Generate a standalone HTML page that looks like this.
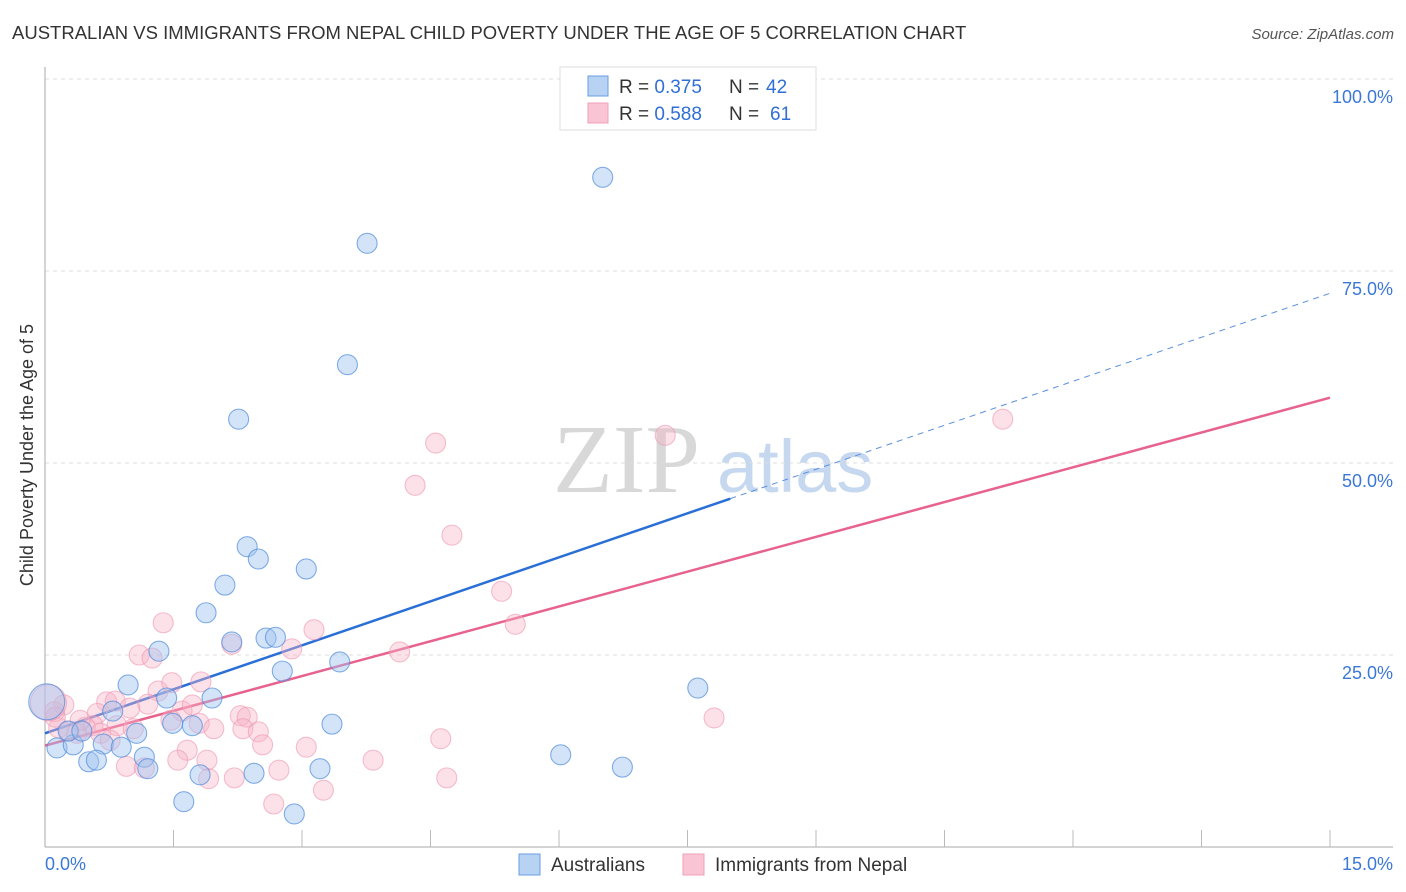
<!DOCTYPE html>
<html><head><meta charset="utf-8"><style>
body{margin:0;background:#fff;font-family:"Liberation Sans",sans-serif}
svg{display:block}
</style></head><body>
<svg id="chart" width="1406" height="892">
<text x="12" y="39" font-size="18.5" fill="#333">AUSTRALIAN VS IMMIGRANTS FROM NEPAL CHILD POVERTY UNDER THE AGE OF 5 CORRELATION CHART</text>
<text x="1394" y="39" font-size="15" fill="#555" font-style="italic" text-anchor="end">Source: ZipAtlas.com</text>
<text transform="translate(33,455) rotate(-90)" font-size="18" fill="#333" text-anchor="middle">Child Poverty Under the Age of 5</text>
<g>
<text x="553" y="492" font-family="Liberation Serif,serif" font-size="98" fill="#d8d8d8">ZIP</text>
<text x="717" y="492" font-size="74" fill="#c6d8ef">atlas</text>
</g>
<g id="grid"></g><g id="axes"></g><g id="lines"></g><g id="pts"></g>
<g>
<rect x="560" y="67" width="256" height="63" fill="#fff" stroke="#ddd"/>
<rect x="588" y="76" width="20" height="20" fill="#b8d2f4" stroke="#6a9de0"/>
<rect x="588" y="103" width="20" height="20" fill="#f9c4d3" stroke="#f0a0b8"/>
<text x="619" y="93" font-size="19" fill="#333">R = <tspan fill="#2f6fd6">0.375</tspan><tspan x="729">N = </tspan><tspan fill="#2f6fd6" x="766">42</tspan></text>
<text x="619" y="120" font-size="19" fill="#333">R = <tspan fill="#2f6fd6">0.588</tspan><tspan x="729">N = </tspan><tspan fill="#2f6fd6" x="770">61</tspan></text>
</g>
<g>
<rect x="519" y="854" width="21" height="21" fill="#b8d2f4" stroke="#6a9de0"/>
<text x="551" y="871" font-size="19" fill="#333">Australians</text>
<rect x="683" y="854" width="21" height="21" fill="#f9c4d3" stroke="#f0a0b8"/>
<text x="715" y="871" font-size="19" fill="#333">Immigrants from Nepal</text>
</g>
</svg>
<script>
const yTicks=[25,50,75,100];
const yTickLabels=["25.0%","50.0%","75.0%","100.0%"];
const xTickCount=10;
const xLabels=["0.0%","15.0%"];
const ausX=[6.51,3.76,3.53,2.26,2.36,2.49,3.05,2.10,1.88,2.18,2.58,2.69,1.33,2.77,3.44,0.97,1.42,1.95,7.62,1.07,0.79,1.49,1.72,3.35,0.14,0.33,0.68,0.89,0.51,0.60,1.16,1.20,6.02,6.74,1.81,2.44,3.21,1.62,2.91,0.02,0.27,0.43];
const ausY=[87.2,78.6,62.8,55.7,39.1,37.5,36.2,34.1,30.5,26.7,27.2,27.3,25.5,22.9,24.1,21.1,19.4,19.4,20.7,14.8,17.7,16.1,15.8,16.0,12.9,13.3,13.4,13.0,11.1,11.3,11.7,10.2,12.0,10.4,9.4,9.6,10.2,5.9,4.3,18.9,15.1,15.1];
const nepX=[11.18,4.56,7.24,4.32,4.75,5.33,5.49,1.38,3.14,2.18,2.88,4.14,1.10,1.25,1.82,1.32,1.48,0.72,0.82,0.99,1.20,0.61,1.60,1.72,2.28,2.36,7.81,1.47,1.80,2.31,2.49,1.97,0.22,0.11,0.56,0.84,0.47,0.16,1.03,0.37,0.65,0.28,2.54,3.05,1.66,4.62,1.55,1.89,3.83,0.95,1.16,2.73,2.21,1.91,4.69,3.25,2.67,0.12,0.41,0.04,0.76];
const nepY=[55.7,52.6,53.6,47.1,40.6,33.3,29.0,29.2,28.3,26.4,25.8,25.4,25.0,24.6,21.5,20.3,21.4,18.9,19.0,18.1,18.6,17.4,17.7,18.5,17.1,16.9,16.8,16.5,16.1,15.4,15.0,15.4,18.5,17.6,15.8,15.8,15.6,15.5,15.4,14.8,14.8,15.1,13.3,13.0,12.6,14.1,11.3,11.3,11.3,10.5,10.3,10.0,9.0,8.9,9.0,7.4,5.6,16.9,16.5,18.8,13.9];
const ausFit=[14.8,72.1], ausSolidEnd=8.0;
const nepFit=[13.2,58.5];
const X=v=>45+v/15*1285, Y=v=>847-v/100*768;
const NS="http://www.w3.org/2000/svg";
function mk(p,t,a){const e=document.createElementNS(NS,t);for(const k in a)e.setAttribute(k,a[k]);p.appendChild(e);return e;}
const grid=document.getElementById('grid'),axes=document.getElementById('axes'),lines=document.getElementById('lines'),pts=document.getElementById('pts');
yTicks.forEach((t,i)=>{
 const l=mk(grid,'line',{x1:45,x2:1393,y1:Y(t),y2:Y(t),stroke:'#ddd','stroke-dasharray':'4,4'});
 
 
 const tx=mk(grid,'text',{x:1393,y:Y(t)+24,'font-size':18,fill:'#3b78d8','text-anchor':'end'});
 tx.textContent=yTickLabels[i];
 
 
});
const ya=mk(axes,'line',{x1:45,x2:45,y1:67,y2:847,stroke:'#aaa'});


const xa=mk(axes,'line',{x1:45,x2:1393,y1:847,y2:847,stroke:'#aaa'});


for(let i=1;i<=xTickCount;i++){const x=X(i*15/xTickCount);const t=mk(axes,'line',{x1:x,x2:x,y1:830,y2:847,stroke:'#bbb'});
 
 }
[[45,'start',xLabels[0]],[1393,'end',xLabels[1]]].forEach(a=>{const t=mk(axes,'text',{x:a[0],y:870,'font-size':18,fill:'#3b78d8','text-anchor':a[1]});t.textContent=a[2];
 
 });
function pt(x,y,r,f,s,n){const c=mk(pts,'circle',{cx:X(x),cy:Y(y),r:r,fill:f,stroke:s,'stroke-width':1.1});
 
 }
nepX.forEach((x,i)=>pt(x,nepY[i],i==59?18:10,'rgba(248,180,200,0.4)','rgba(238,150,178,0.6)','nepal-point'));
ausX.forEach((x,i)=>pt(x,ausY[i],i==39?18:10,'rgba(160,196,240,0.45)','rgba(80,140,220,0.7)','australians-point'));
const af=x=>ausFit[0]+(ausFit[1]-ausFit[0])*x/15, nf=x=>nepFit[0]+(nepFit[1]-nepFit[0])*x/15;
const a1=mk(lines,'line',{x1:X(0),y1:Y(af(0)),x2:X(ausSolidEnd),y2:Y(af(ausSolidEnd)),stroke:'#2a6fd6','stroke-width':2.5});


const a2=mk(lines,'line',{x1:X(ausSolidEnd),y1:Y(af(ausSolidEnd)),x2:X(15),y2:Y(af(15)),stroke:'#5a8fe0','stroke-width':1,'stroke-dasharray':'6,5'});


const n1=mk(lines,'line',{x1:X(0),y1:Y(nf(0)),x2:X(15),y2:Y(nf(15)),stroke:'#e8628e','stroke-width':2.5});


</script>
</body></html>
